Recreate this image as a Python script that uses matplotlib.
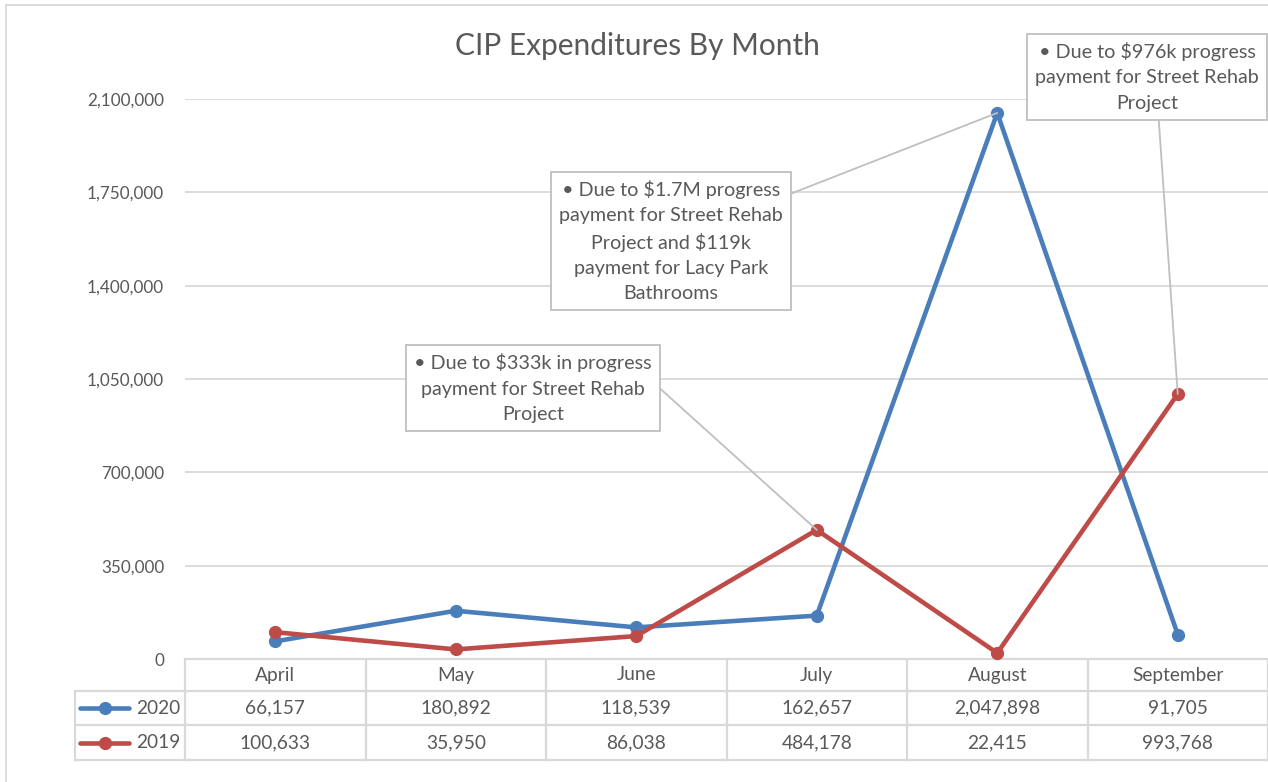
import matplotlib
matplotlib.use('Agg')
import matplotlib.pyplot as plt
from matplotlib.lines import Line2D
import matplotlib.transforms as mtransforms

months = ['April', 'May', 'June', 'July', 'August', 'September']
s2020 = [66157, 180892, 118539, 162657, 2047898, 91705]
s2019 = [100633, 35950, 86038, 484178, 22415, 993768]
series_names = ['2020', '2019']
yticks = [0, 350000, 700000, 1050000, 1400000, 1750000, 2100000]
title = 'CIP Expenditures By Month'
note_july = '\u2022 Due to $333k in progress\npayment for Street Rehab\nProject'
note_aug = '\u2022 Due to $1.7M progress\npayment for Street Rehab\nProject and $119k\npayment for Lacy Park\nBathrooms'
note_sep = '\u2022 Due to $976k progress\npayment for Street Rehab\nProject'

FONT = ['Lato', 'DejaVu Sans']
plt.rcParams['font.family'] = FONT
TXT = '#595959'
GRID = '#d9d9d9'
BLUE = '#4a7ebb'
RED = '#be4b48'
W, H = 1268, 782
FS = 12.3
FS_TAB = 13.8

fig = plt.figure(figsize=(W / 100, H / 100), dpi=100)
ax = fig.add_axes([185 / W, (H - 659) / H, (1268 - 185) / W, (659 - 99) / H])

x = list(range(len(months)))
series = [s2020, s2019]
colors = [BLUE, RED]
for vals, c, name in zip(series, colors, series_names):
    ax.plot(x, vals, color=c, lw=3.3, marker='o', ms=8.5, zorder=3, label=name,
            solid_capstyle='round', clip_on=False)

ax.set_xlim(-0.5, len(months) - 0.5)
ax.set_ylim(0, 2100000)
ax.set_yticks(yticks)
ax.set_yticklabels([f'{v:,}' for v in yticks], color=TXT, fontsize=FS)
ax.tick_params(axis='y', length=0, pad=15)
ax.set_xticks([])
ax.grid(axis='y', color=GRID, lw=1.3)
ax.set_axisbelow(True)
for sp in ax.spines.values():
    sp.set_visible(False)

# title
fig.text(637 / W, 1 - 46 / H, title, ha='center', va='center', fontsize=21.5, color=TXT)

# chart border
fig.add_artist(Line2D([6 / W, 1], [1 - 5 / H, 1 - 5 / H], transform=fig.transFigure, color=GRID, lw=1.3))
fig.add_artist(Line2D([6 / W, 6 / W], [0, 1 - 5 / H], transform=fig.transFigure, color=GRID, lw=1.3))

# data table
tr = mtransforms.blended_transform_factory(ax.transData, ax.transAxes)
ah = 659 - 99
rows_y = [0, -(691 - 659) / ah, -(725 - 659) / ah, -(760 - 659) / ah]
n = len(months)
leg_left = -0.5 - (185 - 75) / ((1268 - 185) / n)
lk = dict(transform=tr, color=GRID, lw=1.6, clip_on=False)
ax.add_line(Line2D([-0.5, n - 0.5], [rows_y[0]] * 2, **lk))
for ry in rows_y[1:]:
    ax.add_line(Line2D([leg_left, n - 0.5], [ry] * 2, **lk))
for i in range(n + 1):
    ax.add_line(Line2D([i - 0.5, i - 0.5], [rows_y[0], rows_y[3]], **lk))
ax.add_line(Line2D([leg_left, leg_left], [rows_y[1], rows_y[3]], **lk))

tk = dict(transform=tr, ha='center', va='center', color=TXT, fontsize=FS_TAB, clip_on=False)
for i, m in enumerate(months):
    ax.text(i, (rows_y[0] + rows_y[1]) / 2, m, **tk)
for r, vals in enumerate(series):
    yc = (rows_y[r + 1] + rows_y[r + 2]) / 2
    for i, v in enumerate(vals):
        ax.text(i, yc, f'{v:,}', **tk)
    ax.add_line(Line2D([leg_left + 0.03, leg_left + 0.3], [yc, yc], transform=tr, color=colors[r],
                       lw=3.3, clip_on=False, solid_capstyle='round'))
    ax.add_line(Line2D([leg_left + 0.165], [yc], transform=tr, color=colors[r], marker='o', ms=8.5,
                       clip_on=False))
    ax.text(-0.5 - 0.025, yc, series_names[r], transform=tr, ha='right', va='center', color=TXT,
            fontsize=FS_TAB, clip_on=False)

# annotations
bbox = dict(boxstyle='square,pad=0.4', fc='white', ec='#bfbfbf', lw=1.3)
ak = dict(textcoords='figure pixels', ha='center', va='center', fontsize=14.2, color=TXT,
          linespacing=1.58, bbox=bbox, annotation_clip=False, zorder=5)
ax.annotate(note_july, xy=(3, s2019[3]), xytext=(533, H - 388),
            arrowprops=dict(arrowstyle='-', color='#bfbfbf', lw=1.3, relpos=(1, 0.6),
                            shrinkA=0, shrinkB=0), **ak)
ax.annotate(note_aug, xy=(4, s2020[4]), xytext=(671, H - 241),
            arrowprops=dict(arrowstyle='-', color='#bfbfbf', lw=1.3, relpos=(1, 0.86),
                            shrinkA=0, shrinkB=0), **ak)
ax.annotate(note_sep, xy=(5, s2019[5]), xytext=(1147, H - 77),
            arrowprops=dict(arrowstyle='-', color='#bfbfbf', lw=1.3, relpos=(0.55, 0),
                            shrinkA=0, shrinkB=0), **ak)

fig.savefig('out.png', dpi=100)
